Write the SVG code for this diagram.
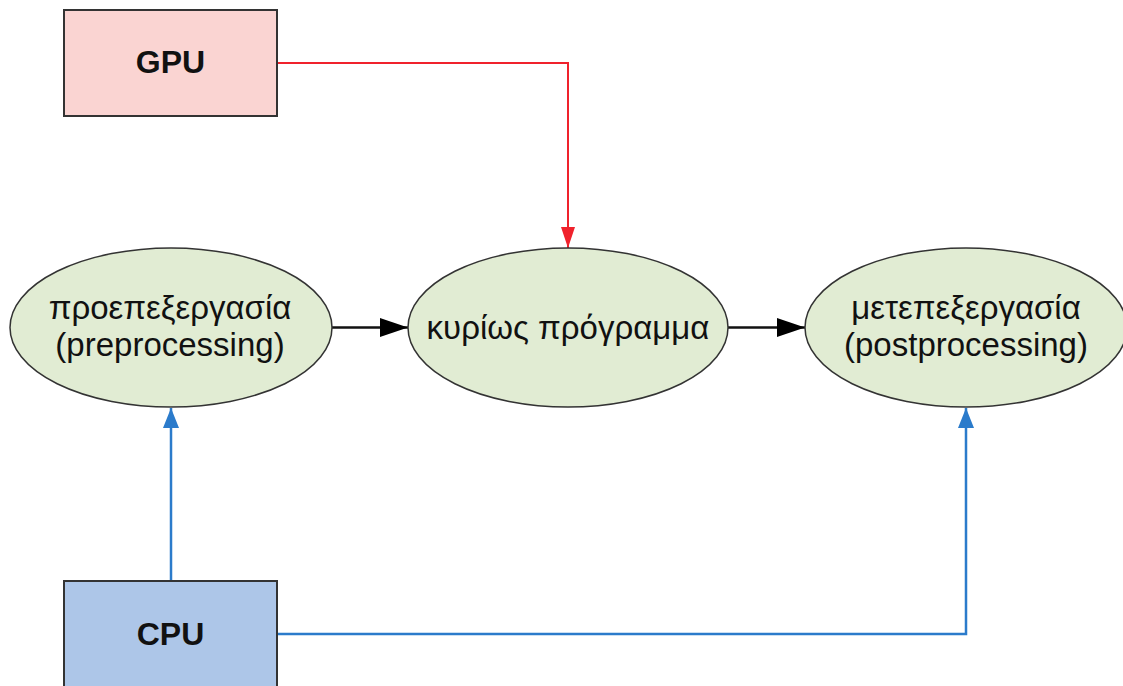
<svg xmlns="http://www.w3.org/2000/svg" width="1123" height="686" viewBox="0 0 1123 686">
<style>
.box{stroke:#333;stroke-width:2}
.ell{fill:#e1ecd3;stroke:#333;stroke-width:1.5}
.lbl{font-family:"Liberation Sans",Arial,sans-serif;font-size:33px;fill:#111;text-anchor:middle}
.blbl{font-family:"Liberation Sans",Arial,sans-serif;font-size:32px;font-weight:bold;fill:#111;text-anchor:middle}
.red{stroke:#f0222c;stroke-width:2;fill:none}
.blue{stroke:#2b7bcb;stroke-width:2.5;fill:none}
.blk{stroke:#111;stroke-width:2.5;fill:none}
</style>
<defs>
<marker id="ar" markerUnits="userSpaceOnUse" viewBox="0 0 21 14" refX="21" refY="7" markerWidth="21" markerHeight="14" orient="auto"><path d="M0,0 L21,7 L0,14 Z" fill="#f0222c"/></marker>
<marker id="ab" markerUnits="userSpaceOnUse" viewBox="0 0 20 16" refX="20" refY="8" markerWidth="20" markerHeight="16" orient="auto"><path d="M0,0 L20,8 L0,16 Z" fill="#2b7bcb"/></marker>
<marker id="ak" markerUnits="userSpaceOnUse" viewBox="0 0 28 19" refX="28" refY="9.5" markerWidth="28" markerHeight="19" orient="auto"><path d="M0,0 L28,9.5 L0,19 Z" fill="#000"/></marker>
</defs>
<rect width="1123" height="686" fill="#fff"/>
<g id="connectors">
<path class="red" d="M277,63 H568 V248" marker-end="url(#ar)"/>
<path class="blk" d="M332,327.5 H408" marker-end="url(#ak)"/>
<path class="blk" d="M728,327.5 H805" marker-end="url(#ak)"/>
<path class="blue" d="M171,581 V408" marker-end="url(#ab)"/>
<path class="blue" d="M277,634 H966 V408" marker-end="url(#ab)"/>
</g>
<g id="gpu">
<rect class="box" x="64" y="10" width="213" height="106" fill="#fad4d2"/>
<text class="blbl" x="170.5" y="73">GPU</text>
</g>
<g id="cpu">
<rect class="box" x="64" y="581" width="213" height="106" fill="#adc6e8"/>
<text class="blbl" x="170.5" y="645">CPU</text>
</g>
<g id="pre">
<ellipse class="ell" cx="171" cy="327.5" rx="161" ry="79.5"/>
<text class="lbl" x="170" y="319">προεπεξεργασία</text>
<text class="lbl" x="170" y="356">(preprocessing)</text>
</g>
<g id="main">
<ellipse class="ell" cx="568" cy="327.5" rx="160" ry="79.5"/>
<text class="lbl" x="568" y="339">κυρίως πρόγραμμα</text>
</g>
<g id="post">
<ellipse class="ell" cx="966" cy="327.5" rx="161" ry="79.5"/>
<text class="lbl" x="966" y="319">μετεπεξεργασία</text>
<text class="lbl" x="966" y="356">(postprocessing)</text>
</g>
</svg>
